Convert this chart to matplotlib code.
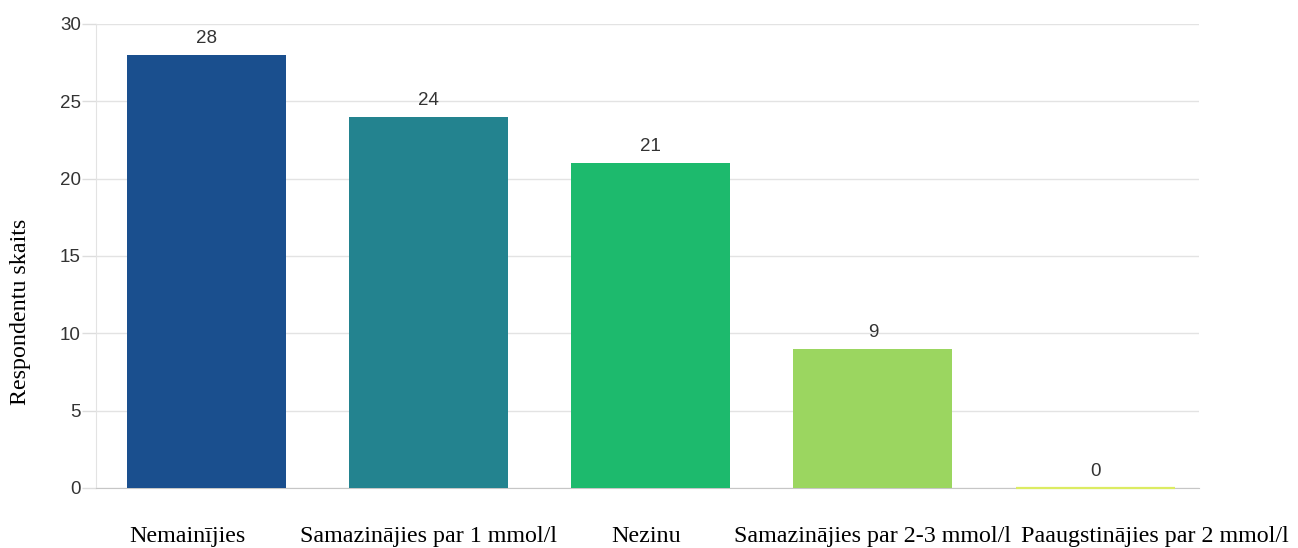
import matplotlib.pyplot as plt

# Atbilžu skaits pa kategorijām
categories = ['Nemainījies', 'Samazinājies par 1 mmol/l', 'Nezinu',
              'Samazinājies par 2-3 mmol/l', 'Paaugstinājies par 2 mmol/l']
counts = [28, 24, 21, 9, 0]
colors = ['#1a4f8e', '#23838f', '#1dba6d', '#9bd660', '#dcec62']
yticks = [0, 5, 10, 15, 20, 25, 30]

# kategoriju nosaukumu nobīde pikseļos (izkārtojums)
label_shift = [-19, 0, -4.5, 0, 60]

fig = plt.figure(figsize=(12.98, 5.48), dpi=100)
ax = fig.add_axes([96 / 1298, 60 / 548, 1103 / 1298, 464 / 548])

x = list(range(len(categories)))
bars = ax.bar(x, counts, width=0.716, color=colors, zorder=3)
# nulles vērtībai redzama tikai plāna krāsaina līnija
for b, v, c in zip(bars, counts, colors):
    if v == 0:
        b.set_edgecolor(c)
        b.set_linewidth(1.6)
        b.set_clip_on(False)
        b.set_zorder(4)

for xi, v in zip(x, counts):
    ax.annotate(str(v), (xi, v), xytext=(0, 8), textcoords='offset pixels',
                ha='center', va='bottom', fontsize=13.5, color='#333333',
                family='Liberation Sans')

ax.set_xlim(-0.4975, 4.468)
ax.set_ylim(0, 30)
ax.set_yticks(yticks)
ax.set_yticklabels([str(t) for t in yticks], family='Liberation Sans',
                   fontsize=13.5, color='#333333')
ax.set_xticks([])
for xi, name, dx in zip(x, categories, label_shift):
    ax.annotate(name, (xi, 0), xycoords=('data', 'axes fraction'),
                xytext=(dx, -54), textcoords='offset pixels',
                ha='center', va='baseline', family='Liberation Serif',
                fontsize=17.3, color='black', annotation_clip=False)
ax.tick_params(axis='y', length=10, width=1, color='#dddddd', pad=1)

ax.grid(axis='y', color='#e3e3e3', linewidth=1, zorder=0)
for s in ['top', 'right']:
    ax.spines[s].set_visible(False)
ax.spines['left'].set_color('#e3e3e3')
ax.spines['bottom'].set_color('#c6c6c6')

ax.set_ylabel('Respondentu skaits', family='Liberation Serif', fontsize=17.3)
ax.yaxis.set_label_coords(-0.059, 0.379)

fig.savefig('out.png', dpi=100)
